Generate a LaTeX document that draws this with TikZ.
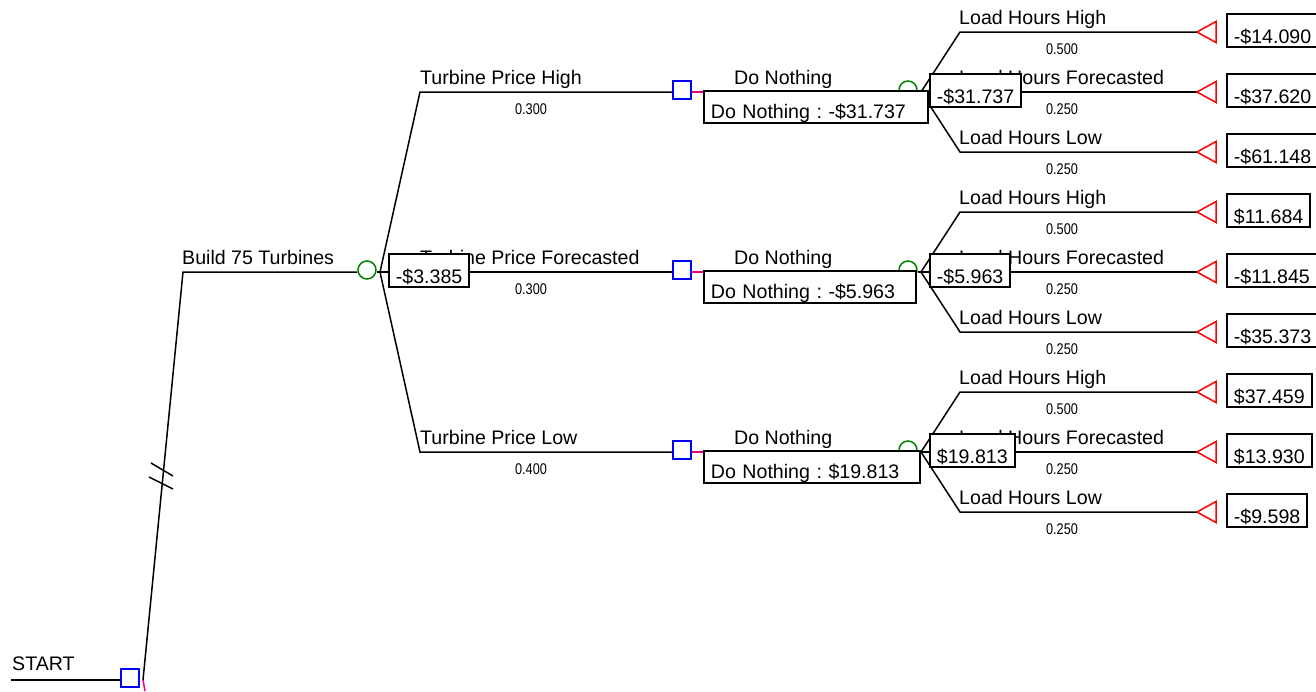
\documentclass[tikz,border=0pt]{standalone}
\usepackage{fontspec}
\setmainfont{Liberation Sans}
\newfontfamily\probfont[FakeStretch=0.82]{Liberation Sans}
\definecolor{chgreen}{RGB}{0,128,0}
\pgfdeclarelayer{paper}
\pgfdeclarelayer{wires}
\pgfsetlayers{paper,wires,main}
\newcommand\fsmain{\fontsize{19.6pt}{23pt}\selectfont\frenchspacing}
\newcommand\fsprob{\probfont\fontsize{15.5pt}{18pt}\selectfont}
\begin{document}
\begin{tikzpicture}[x=1pt,y=-1pt,
  font=\fsmain,
  wire/.style={line width=1.5pt,black},
  stub/.style={line width=1.5pt,magenta},
  decnode/.style={draw=blue,line width=1.5pt,fill=white,minimum size=18pt,inner sep=0pt},
  chnode/.style={draw=chgreen,circle,line width=1.5pt,fill=white,minimum size=18pt,inner sep=0pt},
  endtri/.style={draw=red,line width=1.5pt,fill=white},
  lbl/.style={inner sep=0pt,anchor=base west},
  prob/.style={inner sep=0pt,font=\fsprob},
  valbox/.style={draw,line width=1.8pt,fill=white,inner xsep=7pt,inner ysep=0pt,text height=29pt,text depth=4pt,anchor=base west},
  donbox/.style={valbox,text height=27pt,text depth=5pt,align=left}
]
\useasboundingbox (0,0) rectangle (1316,691);
\clip (0,0) rectangle (1316,691);
\begin{pgfonlayer}{paper}
\fill[white] (0,0) rectangle (1316,691);
\end{pgfonlayer}

% root
\node[lbl] (startlbl) at (12,670) {START};
\coordinate (s0) at (11,680);
\node[decnode] (start) at (130,678) {};
\coordinate (v0) at (143,680);
\coordinate (m0) at (145,691);
\coordinate (b0) at (183,272);
\node[lbl] (buildlbl) at (182,264) {Build 75 Turbines};
\node[chnode] (c0) at (367,270) {};
\coordinate (v1) at (380,272);
\coordinate (h1a) at (151,463);
\coordinate (h1b) at (173,476);
\coordinate (h2a) at (149,477);
\coordinate (h2b) at (173,489);
\begin{pgfonlayer}{wires}
\draw[wire] (s0) -- (start.west |- s0);
\draw[wire] (v0) -- (b0) -- (c0.west |- b0);
\draw[wire] (c0.east |- b0) -- (v1);
\draw[stub] (v0) -- (m0);
\draw[wire] (h1a) -- (h1b);
\draw[wire] (h2a) -- (h2b);
\end{pgfonlayer}

\foreach \i/\y/\name/\p/\dv/\tw/\va/\vb/\vc in {
  1/92/High/0.300/-\$31.737/210/-\$14.090/-\$37.620/-\$61.148,
  2/272/Forecasted/0.300/-\$5.963/198/\$11.684/-\$11.845/-\$35.373,
  3/452/Low/0.400/\$19.813/202/\$37.459/\$13.930/-\$9.598}{
  \coordinate (k\i) at (420,\y);
  \node[decnode] (sq\i) at (682,\y-2) {};
  \coordinate (d\i) at (703,\y);
  \node[chnode] (ch\i) at (908,\y-2) {};
  \coordinate (w\i) at (921,\y);
  \coordinate (ka\i) at (960,\y-60);
  \coordinate (kc\i) at (960,\y+60);
  \coordinate (ta\i) at (1197,\y-60);
  \coordinate (tb\i) at (1197,\y);
  \coordinate (tc\i) at (1197,\y+60);
  \draw[endtri] (ta\i) -- ++(19,-10.5) -- ++(0,21) -- cycle;
  \draw[endtri] (tb\i) -- ++(19,-10.5) -- ++(0,21) -- cycle;
  \draw[endtri] (tc\i) -- ++(19,-10.5) -- ++(0,21) -- cycle;
  \begin{pgfonlayer}{wires}
    \draw[wire] (v1) -- (k\i) -- (sq\i.west |- k\i);
    \draw[stub] (sq\i.east |- d\i) -- (d\i);
    \draw[wire] (d\i) -- (ch\i.west |- d\i);
    \draw[wire] (ch\i.east |- w\i) -- (w\i);
    \draw[wire] (w\i) -- (ka\i) -- (ta\i);
    \draw[wire] (w\i) -- (tb\i);
    \draw[wire] (w\i) -- (kc\i) -- (tc\i);
  \end{pgfonlayer}
  \node[lbl] (ml\i) at (420,\y-8) {Turbine Price \name};
  \node[prob] (mp\i) at (531,\y+17) {\p};
  \node[lbl] (dl\i) at (734,\y-8) {Do Nothing};
  \node[lbl] (la\i) at (959,\y-68) {Load Hours High};
  \node[lbl] (lb\i) at (959,\y-8) {Load Hours Forecasted};
  \node[lbl] (lc\i) at (959,\y+52) {Load Hours Low};
  \node[prob] (pa\i) at (1062,\y-43) {0.500};
  \node[prob] (pb\i) at (1062,\y+17) {0.250};
  \node[prob] (pc\i) at (1062,\y+77) {0.250};
  \node[donbox,text width=\tw pt] (db\i) at (703,\y+26) {Do Nothing : \dv};
  \node[valbox] (cv\i) at (929,\y+11) {\dv};
  \node[valbox] (ea\i) at (1226,\y-49) {\va};
  \node[valbox] (eb\i) at (1226,\y+11) {\vb};
  \node[valbox] (ec\i) at (1226,\y+71) {\vc};
}
\node[valbox] (c0box) at (388,283) {-\$3.385};
\end{tikzpicture}
\end{document}
